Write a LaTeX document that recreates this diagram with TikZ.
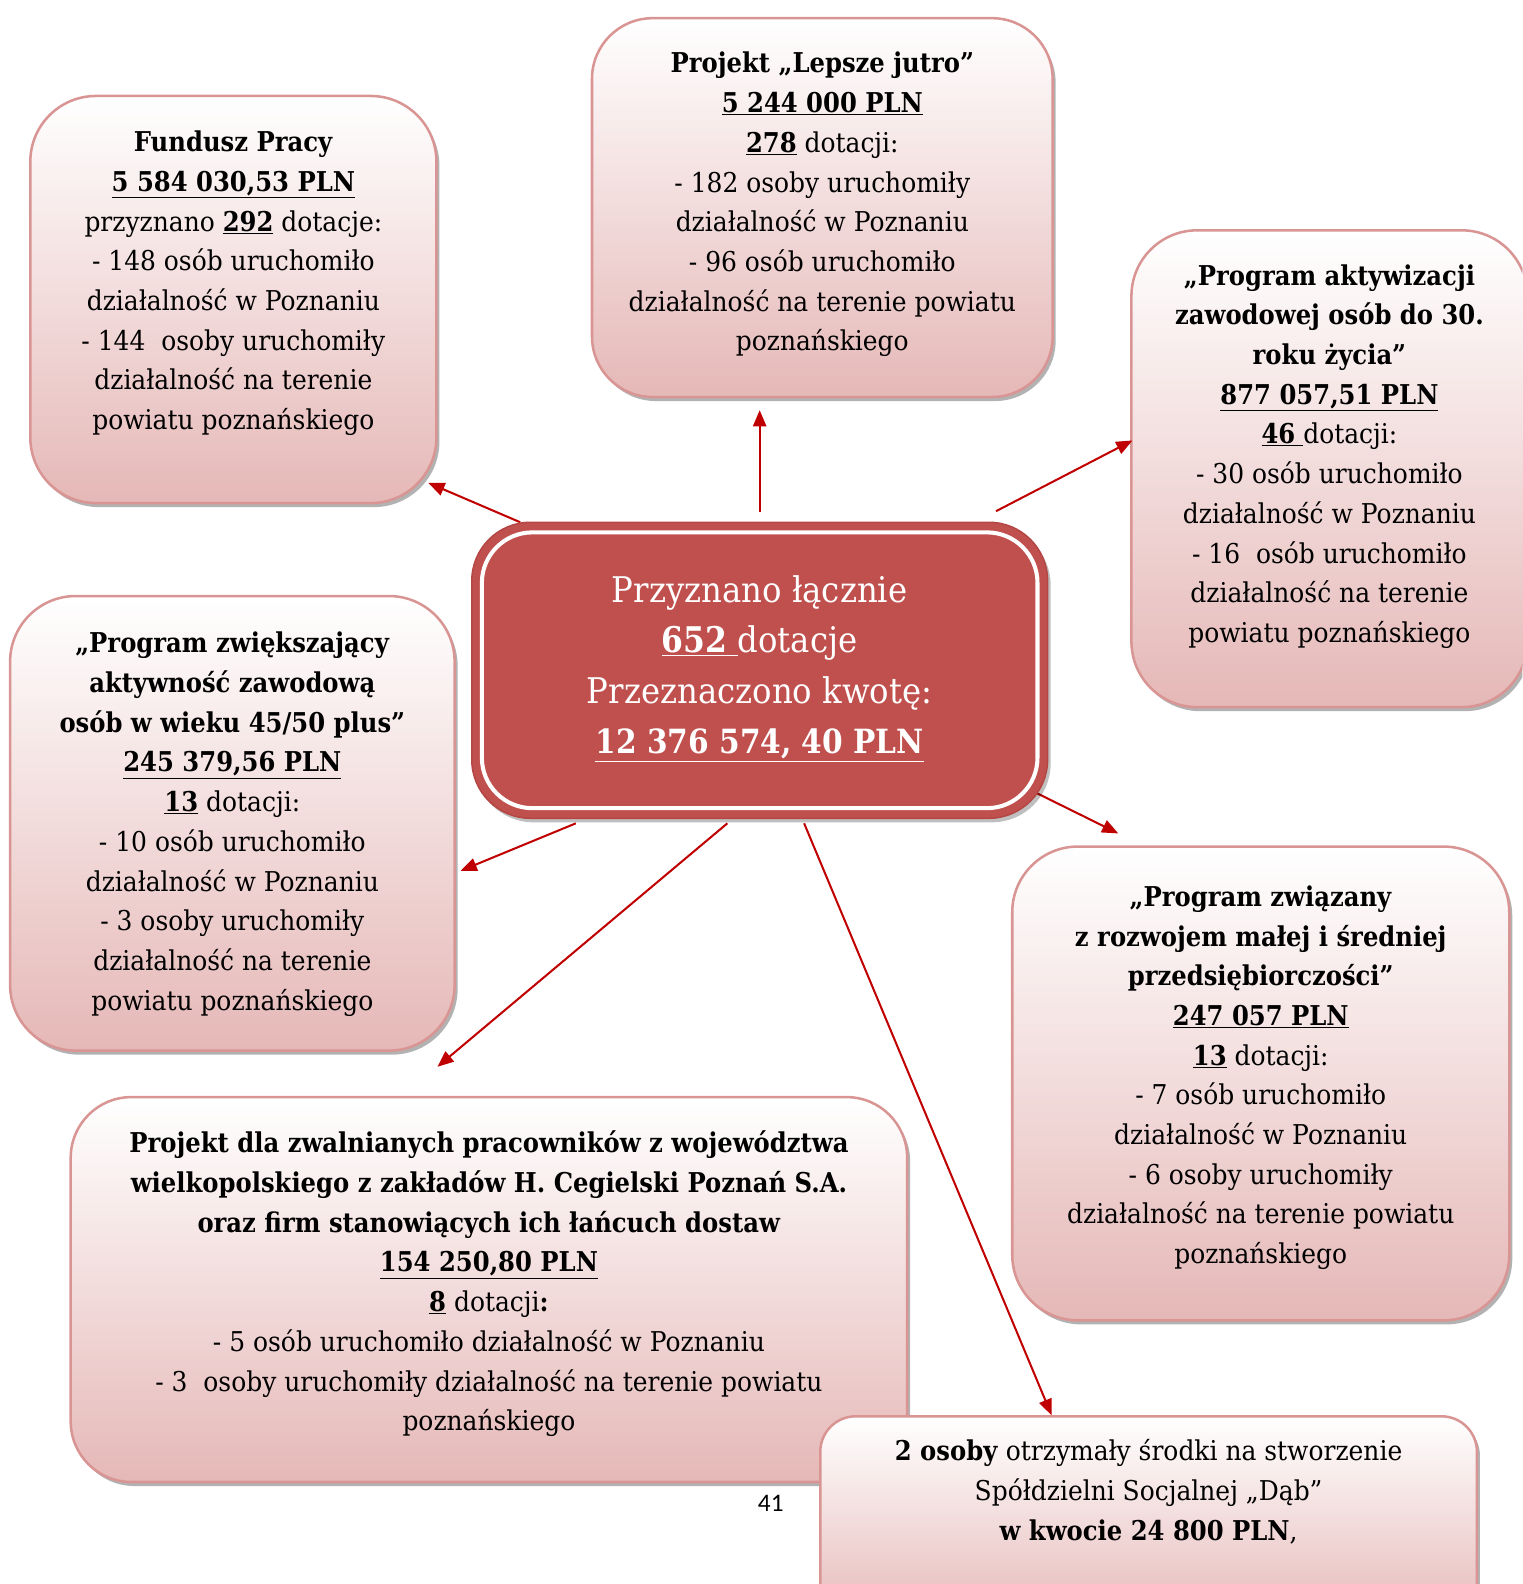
\documentclass[tikz,border=0pt]{standalone}
\usepackage{fontspec}
\setmainfont{DejaVu Serif}[FakeStretch=0.915, BoldFeatures={FakeStretch=0.89}]
\newfontfamily\pagenumfont{Carlito}
\usetikzlibrary{arrows.meta,shadows}
\definecolor{bord}{RGB}{217,149,148}
\definecolor{pinkb}{RGB}{229,184,183}
\definecolor{cred}{RGB}{192,80,77}
\definecolor{credd}{RGB}{180,70,68}
\definecolor{arr}{RGB}{192,0,0}
\begin{document}
\begin{tikzpicture}[x=1pt,y=-1pt,
  box/.style={draw=bord, line width=2.5pt, top color=white, bottom color=pinkb,
    drop shadow={shadow xshift=3pt,shadow yshift=-4pt,fill=black,opacity=0.3}},
  txt/.style={align=center, inner sep=0pt, anchor=north, font=\fontsize{27}{39.3}\selectfont},
  ctxt/.style={align=center, inner sep=0pt, anchor=north, text=white, font=\fontsize{35}{50}\selectfont},
  con/.style={draw=arr, line width=2pt, -{Triangle[length=16pt,width=13pt]}}]
\useasboundingbox (0,0) rectangle (1507,1568);
\clip (0,0) rectangle (1507,1568);

% connectors (drawn first, center box covers their start)
\coordinate (s1) at (515,517); \coordinate (e1) at (424,478);
\coordinate (s2) at (752,507); \coordinate (e2) at (752,406);
\coordinate (s3) at (986,506); \coordinate (e3) at (1121,436);
\coordinate (s4) at (1024,784); \coordinate (e4) at (1107,825);
\coordinate (s5) at (570,815); \coordinate (e5) at (456,862);
\coordinate (s6) at (720,815); \coordinate (e6) at (433,1056);
\coordinate (s7) at (796,815); \coordinate (e7) at (1041,1401);

% boxes
\node[box, rounded corners=65pt, minimum width=402pt, minimum height=403pt] (fp) at (231,296.5) {};
\node[box, rounded corners=60pt, minimum width=456pt, minimum height=375pt] (lj) at (814,205.5) {};
\node[box, rounded corners=65pt, minimum width=392pt, minimum height=472pt] (pa) at (1316,464) {};
\node[box, rounded corners=65pt, minimum width=440pt, minimum height=450pt] (pz) at (230,815) {};
\node[box, rounded corners=65pt, minimum width=492pt, minimum height=469pt] (pm) at (1248,1072.5) {};
\node[box, rounded corners=60pt, minimum width=828pt, minimum height=381pt] (pd) at (484,1276.5) {};
\node (pn) at (763,1488) {\pagenumfont\fontsize{25}{30}\selectfont 41};

\draw[con] (s1) -- (e1);
\draw[con] (s2) -- (e2);
\draw[con] (s3) -- (e3);
\draw[con] (s4) -- (e4);
\draw[con] (s5) -- (e5);
\draw[con] (s6) -- (e6);
\draw[con] (s7) -- (e7);

\node[box, rounded corners=35pt, minimum width=650pt, minimum height=210pt] (so) at (1137,1507) {};

% center
\node[fill=cred, draw=credd, line width=1.5pt, rounded corners=58pt, minimum width=570pt, minimum height=293pt,
  drop shadow={shadow xshift=3pt,shadow yshift=-4pt,fill=black,opacity=0.25}] (c) at (752,663.5) {};
\node[draw=white, line width=4pt, rounded corners=50pt, minimum width=550pt, minimum height=273pt] (ci) at (c.center) {};

% texts
\node[txt] (fpt) at (231,122.5) {\strut\textbf{Fundusz Pracy}\\
\underline{\textbf{5 584 030,53 PLN}}\\
przyznano \underline{\textbf{292}} dotacje:\\
- 148 osób uruchomiło\\
działalność w Poznaniu\\
- 144\ \ osoby uruchomiły\\
działalność na terenie\\
powiatu poznańskiego};

\node[txt] (ljt) at (814,44.5) {\strut\textbf{Projekt „Lepsze jutro”}\\
\underline{\textbf{5 244 000 PLN}}\\
\underline{\textbf{278}} dotacji:\\
- 182 osoby uruchomiły\\
działalność w Poznaniu\\
- 96 osób uruchomiło\\
działalność na terenie powiatu\\
poznańskiego};

\node[txt] (pat) at (1316,254.5) {\strut\textbf{„Program aktywizacji}\\
\textbf{zawodowej osób do 30.}\\
\textbf{roku życia”}\\
\underline{\textbf{877 057,51 PLN}}\\
\underline{\textbf{46}\ }dotacji:\\
- 30 osób uruchomiło\\
działalność w Poznaniu\\
- 16\ \ osób uruchomiło\\
działalność na terenie\\
powiatu poznańskiego};

\node[txt] (pzt) at (230,618.5) {\strut\textbf{„Program zwiększający}\\
\textbf{aktywność zawodową}\\
\textbf{osób w wieku 45/50 plus”}\\
\underline{\textbf{245 379,56 PLN}}\\
\underline{\textbf{13}} dotacji:\\
- 10 osób uruchomiło\\
działalność w Poznaniu\\
- 3 osoby uruchomiły\\
działalność na terenie\\
powiatu poznańskiego};

\node[txt] (pmt) at (1248,869.5) {\strut\textbf{„Program związany}\\
\textbf{z rozwojem małej i średniej}\\
\textbf{przedsiębiorczości”}\\
\underline{\textbf{247 057 PLN}}\\
\underline{\textbf{13}} dotacji:\\
- 7 osób uruchomiło\\
działalność w Poznaniu\\
- 6 osoby uruchomiły\\
działalność na terenie powiatu\\
poznańskiego};

\node[txt] (pdt) at (484,1113.5) {\strut\textbf{Projekt dla zwalnianych pracowników z województwa}\\
\textbf{wielkopolskiego z zakładów H. Cegielski Poznań S.A.}\\
\textbf{oraz firm stanowiących ich łańcuch dostaw}\\
\underline{\textbf{154 250,80 PLN}}\\
\underline{\textbf{8}} dotacji\textbf{:}\\
- 5 osób uruchomiło działalność w Poznaniu\\
- 3\ \ osoby uruchomiły działalność na terenie powiatu\\
poznańskiego};

\node[txt] (sot) at (1137,1418.5) {\strut\textbf{2 osoby} otrzymały środki na stworzenie\\
Spółdzielni Socjalnej „Dąb”\\
\textbf{w kwocie 24 800 PLN},};

\node[ctxt] (ct) at (752,561) {\strut Przyznano łącznie\\
\underline{\textbf{652}\ }dotacje\\
Przeznaczono kwotę:\\
{\fontsize{33}{50}\selectfont\underline{\textbf{12 376 574, 40 PLN}}}};
\end{tikzpicture}
\end{document}
